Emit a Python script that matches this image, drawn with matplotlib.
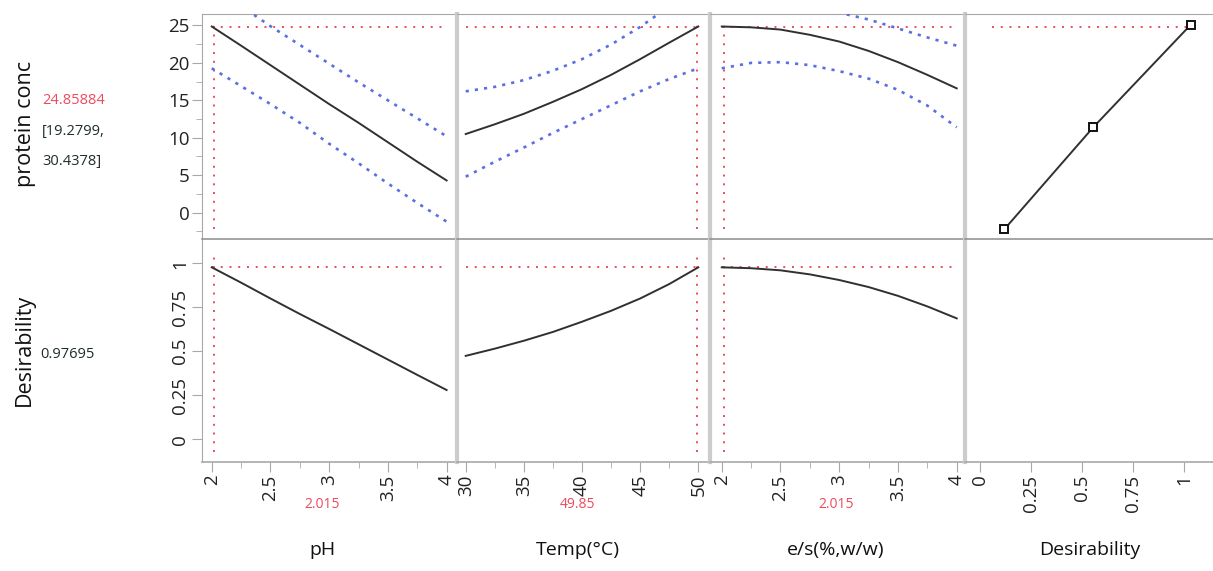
import matplotlib
matplotlib.use("Agg")
import matplotlib.pyplot as plt
from matplotlib.ticker import MultipleLocator, FixedLocator

plt.rcParams['font.family'] = ['Open Sans', 'DejaVu Sans']

# ---------------- data ----------------
factor_names = ["pH", "Temp(°C)", "e/s(%,w/w)", "Desirability"]
current_values = [2.015, 49.85, 2.015]
current_labels = ["2.015", "49.85", "2.015"]
factor_low = [2, 30, 2]
factor_high = [4, 50, 4]

ph_x = [2, 2.25, 2.5, 2.75, 3, 3.25, 3.5, 3.75, 4]
ph_pred = [24.86, 22.3, 19.7, 17.1, 14.5, 12.0, 9.4, 6.8, 4.3]
ph_upper = [30.44, 27.6, 24.9, 22.4, 19.9, 17.4, 15.0, 12.6, 10.2]
ph_lower = [19.28, 16.9, 14.5, 12.0, 9.2, 6.6, 3.9, 1.3, -1.2]
ph_desir = [0.977, 0.89, 0.80, 0.712, 0.627, 0.54, 0.453, 0.366, 0.28]

temp_x = [30, 32.5, 35, 37.5, 40, 42.5, 45, 47.5, 50]
temp_pred = [10.5, 11.8, 13.2, 14.8, 16.5, 18.4, 20.5, 22.7, 24.86]
temp_upper = [16.2, 16.8, 17.7, 18.95, 20.5, 22.45, 24.8, 27.55, 30.44]
temp_lower = [4.8, 6.8, 8.7, 10.65, 12.5, 14.35, 16.2, 17.85, 19.28]
temp_desir = [0.474, 0.515, 0.56, 0.61, 0.668, 0.73, 0.80, 0.882, 0.977]

es_x = [2, 2.25, 2.5, 2.75, 3, 3.25, 3.5, 3.75, 4]
es_pred = [24.86, 24.75, 24.45, 23.75, 22.85, 21.6, 20.1, 18.4, 16.6]
es_upper = [30.44, 29.55, 28.65, 27.65, 26.7, 25.8, 24.6, 23.4, 22.3]
es_lower = [19.28, 20.0, 20.1, 19.7, 18.9, 17.9, 16.4, 14.3, 11.4]
es_desir = [0.977, 0.972, 0.96, 0.937, 0.905, 0.865, 0.815, 0.755, 0.687]

desir_fn_x = [0.12, 0.555, 1.033]
desir_fn_y = [-2.2, 11.4, 25.1]

pred_value = 24.85884
ci_text = ["[19.2799,", "30.4378]"]
desir_value = 0.97695

top_yticks = [0, 5, 10, 15, 20, 25]
bot_yticks = [0, 0.25, 0.5, 0.75, 1]
bot_yticklabels = ["0", "0.25", "0.5", "0.75", "1"]
xticks = [[2, 2.5, 3, 3.5, 4], [30, 35, 40, 45, 50], [2, 2.5, 3, 3.5, 4], [0, 0.25, 0.5, 0.75, 1]]
xticklabels = [["2", "2.5", "3", "3.5", "4"], ["30", "35", "40", "45", "50"],
               ["2", "2.5", "3", "3.5", "4"], ["0", "0.25", "0.5", "0.75", "1"]]

# ---------------- layout ----------------
W, H = 1213, 571
fig = plt.figure(figsize=(W / 100, H / 100), dpi=100)

def rect(x0, x1, y0, y1):
    return [x0 / W, 1 - y1 / H, (x1 - x0) / W, (y1 - y0) / H]

cols = [(202, 456), (457, 709), (710, 964), (965, 1213)]
rows = [(14, 239), (239, 462)]
xlims = [(1.917, 4.08), (29.25, 50.92), (1.90, 4.062), (-0.0735, 1.142)]
ylims = [(-3.52, 26.53), (-0.129, 1.138)]

RED = '#ec4b5c'
BLUE = '#5a6fe0'
BLACK = '#303030'
SPINE = '#a8a8a8'
SEP = '#cccccc'
red_ls = (0, (1, 3.5))
blue_ls = (0, (1.2, 2.3))
TICK_FS = 13.5

curves = [
    (ph_x, ph_pred, ph_upper, ph_lower, ph_desir),
    (temp_x, temp_pred, temp_upper, temp_lower, temp_desir),
    (es_x, es_pred, es_upper, es_lower, es_desir),
]

for r, (y0, y1) in enumerate(rows):
    for c, (x0, x1) in enumerate(cols):
        ax = fig.add_axes(rect(x0, x1, y0, y1))
        ax.set_xlim(*xlims[c])
        ax.set_ylim(*ylims[r])
        ax.patch.set_alpha(0)
        for s in ax.spines.values():
            s.set_visible(False)
        if r == 0:
            ax.spines['top'].set_visible(True)
            ax.spines['top'].set_color(SPINE)
        else:
            ax.spines['top'].set_visible(True)
            ax.spines['top'].set_color('#8c8c8c')
            ax.spines['top'].set_linewidth(1.1)
            ax.spines['bottom'].set_visible(True)
            ax.spines['bottom'].set_color(SPINE)
            ax.spines['bottom'].set_linewidth(1.2)
        ax.spines['left'].set_visible(True)
        if c == 0:
            ax.spines['left'].set_color(SPINE)
        else:
            ax.spines['left'].set_color(SEP)
            ax.spines['left'].set_linewidth(3)

        # ticks
        ax.tick_params(which='both', direction='out', color=SPINE, labelcolor='#222222',
                       labelsize=TICK_FS, pad=2)
        ax.tick_params(which='major', length=7)
        ax.tick_params(which='minor', length=4)
        if r == 1:
            ax.xaxis.set_major_locator(FixedLocator(xticks[c]))
            ax.set_xticklabels(xticklabels[c], rotation=90)
            if c in (0, 2):
                ax.xaxis.set_minor_locator(MultipleLocator(0.25))
            elif c == 1:
                ax.xaxis.set_minor_locator(MultipleLocator(2.5))
        else:
            ax.set_xticks([])
        if c == 0:
            if r == 0:
                ax.yaxis.set_major_locator(FixedLocator(top_yticks))
                ax.yaxis.set_minor_locator(MultipleLocator(2.5))
            else:
                ax.yaxis.set_major_locator(FixedLocator(bot_yticks))
                ax.set_yticklabels(bot_yticklabels, rotation=90, va='center')
        else:
            ax.set_yticks([])
            ax.tick_params(axis='y', which='minor', length=0)

        # content
        if c < 3:
            xs, pred, up, lo, des = curves[c]
            cv = current_values[c]
            if r == 0:
                ax.plot([factor_low[c], factor_high[c]], [pred_value, pred_value],
                        color=RED, ls=red_ls, lw=1.4, zorder=2)
                ax.plot([cv, cv], [-2.2, 25.0], color=RED, ls=red_ls, lw=1.4, zorder=2)
                ax.plot(xs, up, color=BLUE, ls=blue_ls, lw=1.9, zorder=3)
                ax.plot(xs, lo, color=BLUE, ls=blue_ls, lw=1.9, zorder=3)
                ax.plot(xs, pred, color=BLACK, lw=1.4, zorder=4)
            else:
                ax.plot([factor_low[c], factor_high[c]], [desir_value, desir_value],
                        color=RED, ls=red_ls, lw=1.4, zorder=2)
                ax.plot([cv, cv], [-0.07, 1.06], color=RED, ls=red_ls, lw=1.4, zorder=2)
                ax.plot(xs, des, color=BLACK, lw=1.4, zorder=4)
        elif r == 0:
            ax.plot([0.06, desir_fn_x[-1]], [pred_value, pred_value],
                    color=RED, ls=red_ls, lw=1.4, zorder=2)
            ax.plot(desir_fn_x, desir_fn_y, color=BLACK, lw=1.4, marker='s', ms=6,
                    mfc='white', mec='#111111', mew=1.4, zorder=4)

def ftext(x, y, s, **kw):
    fig.text(x / W, 1 - y / H, s, **kw)

# left labels
ftext(26, 124, "protein conc", rotation=90, ha='center', va='center', fontsize=15.5, color='#111111')
ftext(24, 350, "Desirability", rotation=90, ha='center', va='center', fontsize=15.5, color='#111111')
ftext(42, 100, f"{pred_value:.5f}", ha='left', va='center', fontsize=10.5, color=RED)
ftext(42, 131, ci_text[0], ha='left', va='center', fontsize=10.5, color='#1e2e22')
ftext(42, 162, ci_text[1], ha='left', va='center', fontsize=10.5, color='#1e2e22')
ftext(40, 354, f"{desir_value:.5f}", ha='left', va='center', fontsize=10.5, color='#1e2e22')

# bottom labels
label_x = [322, 578, 836, 1090]
for i in range(3):
    ftext(label_x[i], 504, current_labels[i], ha='center', va='center', fontsize=10, color=RED)
for i in range(4):
    ftext(label_x[i], 550, factor_names[i], ha='center', va='center', fontsize=14, color='#111111')

fig.savefig("out.png", dpi=100, facecolor='white')
